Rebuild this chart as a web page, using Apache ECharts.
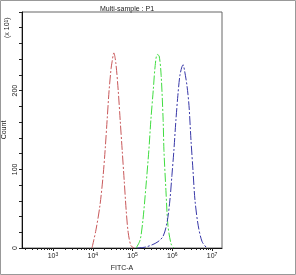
<!DOCTYPE html>
<html><head><meta charset="utf-8">
<script src="https://cdn.jsdelivr.net/npm/echarts@6/dist/echarts.min.js"></script>
<style>html,body{margin:0;padding:0;background:#fff}#c{width:296px;height:275px}</style>
</head><body><div id="c"></div>
<script>
// x values are log10(FITC-A intensity); y values are counts (x 10^1)
var redX = [3.98,4.08,4.18,4.26,4.31,4.36,4.41,4.46,4.48,4.53,4.58,4.64,4.69,4.74,4.79,4.84,4.89,4.96,5.04];
var redY = [0,23,54,92,124,162,200,228,235,248,235,200,162,124,86,48,20,3,0];
var greenX = [5.09,5.19,5.26,5.34,5.41,5.46,5.52,5.57,5.62,5.67,5.72,5.77,5.79,5.84,5.89,5.97,6.04];
var greenY = [0,10,35,80,124,162,200,232,246,244,219,162,124,73,29,5,0];
var blueX = [5.11,5.31,5.49,5.64,5.77,5.87,5.94,5.99,6.04,6.09,6.14,6.19,6.24,6.27,6.31,6.37,6.42,6.47,6.52,6.57,6.65,6.75,6.87];
var blueY = [0,1,4,8,15,33,61,92,124,162,194,219,230,233,225,206,181,137,99,61,29,8,0];
var xDecades = [3,4,5,6,7];
var yLabels = [0,100,200];

function pairs(xs, ys){ return xs.map(function(v,i){ return [v, ys[i]]; }); }
var xMin = 2.22, xMax = 7.25;
var minorTicks = [];
for (var d = 2; d <= 7; d++) {
  for (var k = 1; k <= 9; k++) {
    var v = d + Math.log10(k);
    if (v >= xMin && v <= xMax) minorTicks.push(v);
  }
}
var chart = echarts.init(document.getElementById('c'), null, {renderer:'canvas'});
var font = 'Liberation Sans';
chart.setOption({
  animation: false,
  title: {text: 'Multi-sample : P1', left: 122, top: 1, textAlign: 'center',
    textStyle: {fontSize: 7, fontWeight: 'normal', color: '#222', fontFamily: font}},
  grid: {left: 22, top: 12, right: 74, bottom: 27, show: true, borderColor: '#666', borderWidth: 1,
    containLabel: false, outerBoundsMode: 'none'},
  xAxis: [{
    type: 'value', min: xMin, max: xMax,
    name: 'FITC-A', nameLocation: 'middle', nameGap: 17, nameMoveOverlap: false,
    nameTextStyle: {fontSize: 7, color: '#222', fontFamily: font},
    axisLine: {show: true, lineStyle: {color: '#111', width: 1}},
    splitLine: {show: false},
    axisTick: {show: true, customValues: minorTicks, length: 2, lineStyle: {color: '#222'}},
    axisLabel: {customValues: xDecades, fontSize: 7, color: '#222', margin: 4, fontFamily: font,
      formatter: function(v){ return '10{s|' + Math.round(v) + '}'; },
      rich: {s: {fontSize: 5, verticalAlign: 'top', padding: [0,0,4,0], color: '#222'}}}
  }, {
    type: 'value', min: xMin, max: xMax, gridIndex: 0, position: 'bottom',
    axisLine: {show: false}, splitLine: {show: false}, axisLabel: {show: false},
    axisTick: {show: true, customValues: xDecades, length: 3, lineStyle: {color: '#222'}}
  }],
  yAxis: {
    type: 'value', min: 0, max: 300, interval: 20,
    name: 'Count', nameLocation: 'middle', nameGap: 14, nameRotate: 90, nameMoveOverlap: false,
    nameTextStyle: {fontSize: 7, color: '#222', fontFamily: font},
    axisLine: {show: true, lineStyle: {color: '#111', width: 1}},
    splitLine: {show: false},
    axisTick: {show: true, length: 3, lineStyle: {color: '#222'}},
    axisLabel: {rotate: 90, fontSize: 7, color: '#222', margin: 3, fontFamily: font,
      formatter: function(v){ return yLabels.indexOf(v) >= 0 ? String(v) : ''; }}
  },
  graphic: [
    {type: 'rect', shape: {x: 0.5, y: 0.5, width: 295, height: 274}, style: {fill: 'none', stroke: '#999', lineWidth: 1}, silent: true},
    {type: 'text', x: 4, y: 38, rotation: Math.PI/2, style: {text: '(x 10{s|1})', fontSize: 7, fill: '#222', fontFamily: font,
      rich: {s: {fontSize: 5, verticalAlign: 'top'}}}}
  ],
  series: [
    {type: 'line', data: pairs(redX, redY), smooth: 0.3, showSymbol: false, symbol: 'none',
      lineStyle: {color: '#c8585a', width: 1, type: [9,2,2,2]}},
    {type: 'line', data: pairs(greenX, greenY), smooth: 0.3, showSymbol: false, symbol: 'none',
      lineStyle: {color: '#3fdc3f', width: 1, type: [9,2,2,2]}},
    {type: 'line', data: pairs(blueX, blueY), smooth: 0.3, showSymbol: false, symbol: 'none',
      lineStyle: {color: '#3838a8', width: 1, type: [9,2,2,2]}}
  ]
});
</script></body></html>
